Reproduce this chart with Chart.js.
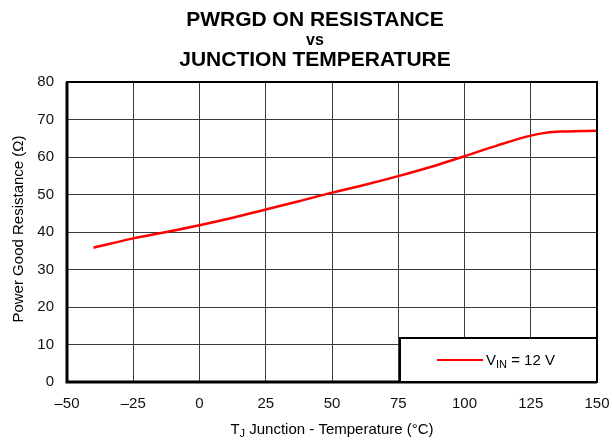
<!DOCTYPE html>
<html>
<head>
<meta charset="utf-8">
<script src="https://cdn.jsdelivr.net/npm/chart.js@4/dist/chart.umd.min.js"></script>
<style>
  html, body { margin: 0; padding: 0; background: #fff; }
  #wrap { width: 612px; height: 442px; position: relative; }
</style>
</head>
<body>
<div id="wrap"><canvas id="ronChart" width="612" height="442"></canvas></div>
<script>
// ---- data ----
const tempC = [-40, -25, -12.5, 0, 12.5, 25, 37.5, 50, 62.5, 75, 87.5, 100, 112.5, 125, 131, 137.5, 150];
const ronOhm = [35.8, 38.3, 40.0, 41.8, 43.8, 46.0, 48.2, 50.5, 52.6, 54.9, 57.4, 60.2, 63.1, 65.7, 66.5, 66.8, 67.0];
const titleLines = ['PWRGD ON RESISTANCE', 'vs', 'JUNCTION TEMPERATURE'];
const seriesLabel = { main: 'V', sub: 'IN', rest: ' = 12 V' };
const xTitle = { main: 'T', sub: 'J', rest: ' Junction - Temperature (°C)' };
const yTitle = 'Power Good Resistance (Ω)';

const FONT = 'Arial, "Liberation Sans", sans-serif';

// text with a subscript piece
function subText(ctx, parts, x, y, size, align) {
  ctx.font = size + 'px ' + FONT;
  const w1 = ctx.measureText(parts.main).width;
  const w3 = ctx.measureText(parts.rest).width;
  ctx.font = Math.round(size * 0.7) + 'px ' + FONT;
  const w2 = ctx.measureText(parts.sub).width;
  const total = w1 + w2 + w3;
  let x0 = align === 'center' ? x - total / 2 : x;
  ctx.textAlign = 'left';
  ctx.textBaseline = 'alphabetic';
  ctx.font = size + 'px ' + FONT;
  ctx.fillText(parts.main, x0, y);
  ctx.font = Math.round(size * 0.7) + 'px ' + FONT;
  ctx.fillText(parts.sub, x0 + w1, y + 3);
  ctx.font = size + 'px ' + FONT;
  ctx.fillText(parts.rest, x0 + w1 + w2, y);
  return total;
}

const decorPlugin = {
  id: 'decor',
  afterDraw(chart) {
    const ctx = chart.ctx;
    const a = chart.chartArea;
    ctx.save();
    ctx.fillStyle = '#000';

    // title
    ctx.textAlign = 'center';
    ctx.textBaseline = 'alphabetic';
    ctx.font = 'bold 21px ' + FONT;
    ctx.fillText(titleLines[0], 315, 26);
    ctx.font = 'bold 16px ' + FONT;
    ctx.fillText(titleLines[1], 315, 45);
    ctx.font = 'bold 21px ' + FONT;
    ctx.fillText(titleLines[2], 315, 66);

    // plot frame (left/bottom a bit heavier)
    ctx.strokeStyle = '#000';
    ctx.lineWidth = 2;
    ctx.strokeRect(a.left, a.top, a.right - a.left, a.bottom - a.top);
    ctx.lineWidth = 3;
    ctx.beginPath();
    ctx.moveTo(a.left, a.top);
    ctx.lineTo(a.left, a.bottom);
    ctx.lineTo(a.right, a.bottom);
    ctx.stroke();

    // legend box
    const bx = a.right - 197, by = a.bottom - 44;
    ctx.fillStyle = '#fff';
    ctx.fillRect(bx, by, 197, 44);
    ctx.lineWidth = 2;
    ctx.strokeRect(bx, by, 197, 44);
    ctx.strokeStyle = '#ff0000';
    ctx.lineWidth = 2;
    ctx.beginPath();
    ctx.moveTo(bx + 37, by + 22);
    ctx.lineTo(bx + 83, by + 22);
    ctx.stroke();
    ctx.fillStyle = '#000';
    subText(ctx, seriesLabel, bx + 86, by + 27, 15, 'left');

    // axis titles
    subText(ctx, xTitle, (a.left + a.right) / 2, 434, 15, 'center');
    ctx.translate(19, 229);
    ctx.rotate(-Math.PI / 2);
    ctx.textAlign = 'center';
    ctx.textBaseline = 'middle';
    ctx.font = '15px ' + FONT;
    ctx.fillText(yTitle, 0, 0);
    ctx.restore();
  }
};

new Chart(document.getElementById('ronChart').getContext('2d'), {
  type: 'line',
  data: {
    datasets: [{
      data: tempC.map((t, i) => ({ x: t, y: ronOhm[i] })),
      borderColor: '#ff0000',
      borderWidth: 2.5,
      pointRadius: 0,
      cubicInterpolationMode: 'monotone',
      fill: false
    }]
  },
  options: {
    responsive: false,
    animation: false,
    layout: { padding: { top: 82, right: 15, left: 0, bottom: 0 } },
    scales: {
      x: {
        type: 'linear', min: -50, max: 150,
        afterFit: function (s) { s.height = 60; s.paddingLeft = 0; s.paddingRight = 0; },
        grid: { color: '#3a3a3a', lineWidth: 1, drawTicks: false },
        border: { display: false },
        ticks: {
          stepSize: 25, padding: 13, color: '#111',
          font: { size: 15, family: FONT },
          callback: function (v) { return v < 0 ? '\u2013' + Math.abs(v) : String(v); }
        }
      },
      y: {
        min: 0, max: 80,
        afterFit: function (s) { s.width = 67; s.paddingTop = 0; s.paddingBottom = 0; },
        grid: { color: '#3a3a3a', lineWidth: 1, drawTicks: false },
        border: { display: false },
        ticks: { stepSize: 10, padding: 13, color: '#111', font: { size: 15, family: FONT } }
      }
    },
    plugins: { legend: { display: false }, tooltip: { enabled: false } }
  },
  plugins: [decorPlugin]
});
</script>
</body>
</html>
